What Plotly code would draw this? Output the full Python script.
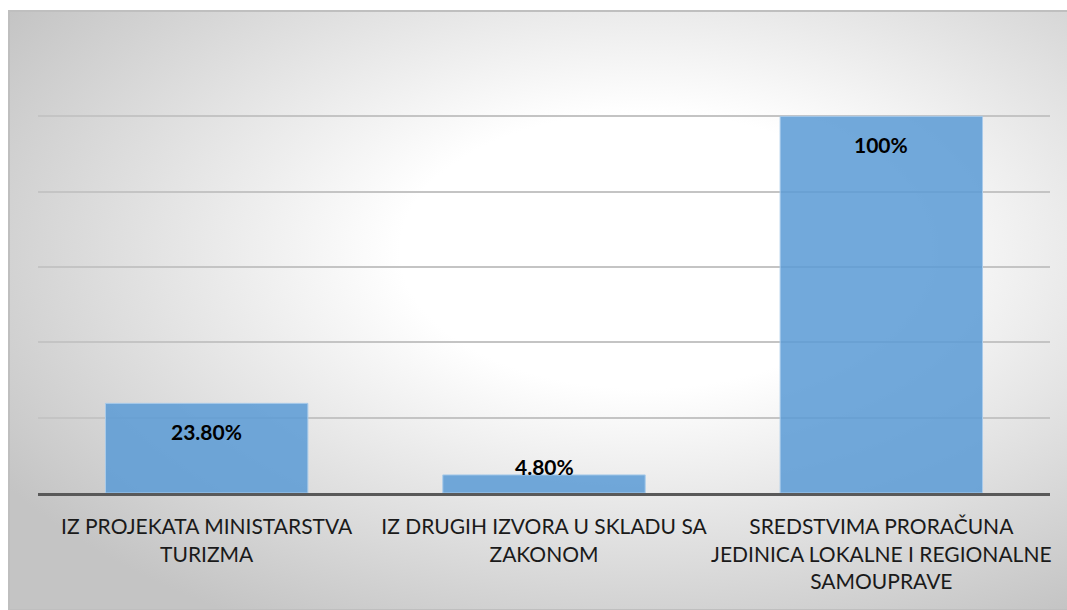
import base64
import plotly.graph_objects as go

categories = [
    "IZ PROJEKATA MINISTARSTVA<br>TURIZMA",
    "IZ DRUGIH IZVORA U SKLADU SA<br>ZAKONOM",
    "SREDSTVIMA PRORAČUNA<br>JEDINICA LOKALNE I REGIONALNE<br>SAMOUPRAVE",
]
values = [23.8, 4.8, 100]
value_labels = ["23.80%", "4.80%", "100%"]

W, H = 1067, 610
ML, MR, MT, MB = 38, 17, 41, 117
YMAX = 120
plot_h = H - MT - MB
plot_w = W - ML - MR
px_per_unit = plot_h / YMAX

# radial gradient background of the chart area
bg_x0, bg_y0 = 9, 11
bg_w, bg_h = W - bg_x0, H - bg_y0
svg = f'''<svg xmlns="http://www.w3.org/2000/svg" width="{bg_w}" height="{bg_h}" viewBox="0 0 {bg_w} {bg_h}" preserveAspectRatio="none">
<defs><radialGradient id="g" cx="0.6" cy="0.4" r="0.72">
<stop offset="0" stop-color="#ffffff"/>
<stop offset="0.32" stop-color="#ffffff"/>
<stop offset="1" stop-color="#c4c4c4"/>
</radialGradient></defs>
<rect x="0" y="0" width="{bg_w}" height="{bg_h}" fill="url(#g)"/>
</svg>'''
src = "data:image/svg+xml;base64," + base64.b64encode(svg.encode()).decode()

px_x0 = (bg_x0 - ML) / plot_w
px_y1 = 1 + (MT - bg_y0) / plot_h
sx = bg_w / plot_w
sy = bg_h / plot_h

label_font = dict(family="Lato", size=21, color="#000000", weight="bold")

fig = go.Figure()
fig.add_trace(go.Bar(
    x=categories,
    y=values,
    marker=dict(color="rgba(91,155,213,0.86)", line=dict(color="#a9cbea", width=1)),
    hoverinfo="skip",
))

annotations = []
for c, v, t in zip(categories, values, value_labels):
    if v * px_per_unit > 45:
        annotations.append(dict(x=c, y=v, text=t, showarrow=False, yanchor="top", yshift=-14,
                                font=label_font))
    else:
        annotations.append(dict(x=c, y=v, text=t, showarrow=False, yanchor="bottom", yshift=-6,
                                font=label_font))

fig.update_layout(
    width=W, height=H,
    margin=dict(l=ML, r=MR, t=MT, b=MB),
    paper_bgcolor="white",
    plot_bgcolor="rgba(0,0,0,0)",
    bargap=0.4,
    showlegend=False,
    annotations=annotations,
    images=[dict(source=src, xref="paper", yref="paper", x=px_x0, y=px_y1,
                 sizex=sx, sizey=sy, xanchor="left", yanchor="top",
                 sizing="stretch", layer="below")],
    shapes=[dict(type="rect", xref="paper", yref="paper", x0=px_x0, y0=px_y1 - sy,
                 x1=px_x0 + sx + 0.01, y1=px_y1, line=dict(color="#bfbfbf", width=2),
                 layer="below")],
    font=dict(family="Lato", color="#1a1a1a"),
)
fig.update_xaxes(showline=True, linecolor="#595959", linewidth=3, ticks="",
                 tickfont=dict(family="Lato", size=21, color="#1a1a1a"),
                 ticklabelstandoff=13, showgrid=False)
fig.update_yaxes(range=[0, YMAX], dtick=20, showticklabels=False, showgrid=True,
                 gridcolor="#c4c4c4", gridwidth=1.5, zeroline=False)

fig.write_html("out.html", config={"displayModeBar": False},
               post_script="document.body.style.margin='0';document.body.style.overflow='hidden';")
